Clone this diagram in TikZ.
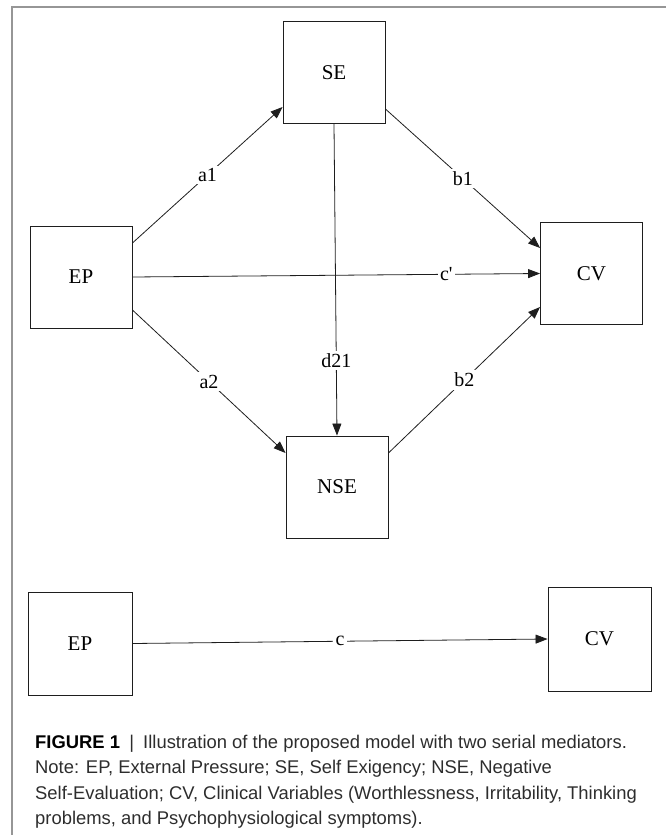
\documentclass[tikz,border=0pt]{standalone}
\usepackage{fontspec}
\setmainfont{Liberation Serif}
\newfontfamily\capfont{Liberation Sans}
\usetikzlibrary{arrows.meta}
\definecolor{frame}{RGB}{150,150,150}
\definecolor{ink}{RGB}{30,30,30}
\definecolor{captext}{RGB}{45,45,45}
\tikzset{
  box/.style={draw=ink, line width=0.9pt, minimum width=102pt, minimum height=102pt, inner sep=0pt, font=\fontsize{21}{24}\selectfont},
  path/.style={draw=ink, line width=0.8pt, -{Triangle[length=12pt,width=9pt]}},
  lbl/.style={fill=white, inner sep=2.5pt, font=\fontsize{20}{24}\selectfont},
  captionline/.style={anchor=base west, inner sep=0pt, text=captext, font=\capfont\fontsize{18.4}{22}\selectfont}
}
\begin{document}
\begin{tikzpicture}[x=1pt,y=-1pt]
\useasboundingbox (0,0) rectangle (666,835);
% partial frame
\draw[frame, line width=1.2pt] (12,835) -- (12,7) -- (666,7);
% boxes
\node[box] (SE)  at (334,72.5) {SE};
\node[box] (EPt) at (81,277) {EP};
\node[box] (CVt) at (591.5,273.5) {CV};
\node[box] (NSE) at (337,487) {NSE};
\node[box, minimum width=104pt, minimum height=103pt] (EPb) at (80,643.5) {EP};
\node[box, minimum width=103pt, minimum height=104pt] (CVb) at (599.5,639) {CV};
% connectors
\draw[path] ([yshift=34pt]EPt.east) -- node[lbl, midway] {a1} ([yshift=-34.5pt]SE.west);
\draw[path] ([yshift=-36.5pt]SE.east) -- node[lbl, midway] {b1} ([yshift=25.5pt]CVt.west);
\draw[path] (EPt.east) -- node[lbl, pos=0.77] {c\textquotesingle} (CVt.west);
\draw[path] ([yshift=-33pt]EPt.east) -- node[lbl, midway] {a2} ([yshift=34pt]NSE.west);
\draw[path] ([yshift=34pt]NSE.east) -- node[lbl, midway] {b2} ([yshift=-33.5pt]CVt.west);
\draw[path] (SE.south) -- node[lbl, pos=0.76] {d21} (NSE.north);
\draw[path] (EPb.east) -- node[lbl, midway] {c} (CVb.west);
% caption
\node[captionline] (cap1) at (35,748) {{\bfseries\color{black}FIGURE 1}\enspace|\enspace Illustration of the proposed model with two serial mediators.};
\node[captionline] (cap2) at (35,773.5) {Note: EP, External Pressure; SE, Self Exigency; NSE, Negative};
\node[captionline] (cap3) at (35,799) {Self-Evaluation; CV, Clinical Variables (Worthlessness, Irritability, Thinking};
\node[captionline] (cap4) at (35,824.5) {problems, and Psychophysiological symptoms).};
\end{tikzpicture}
\end{document}
